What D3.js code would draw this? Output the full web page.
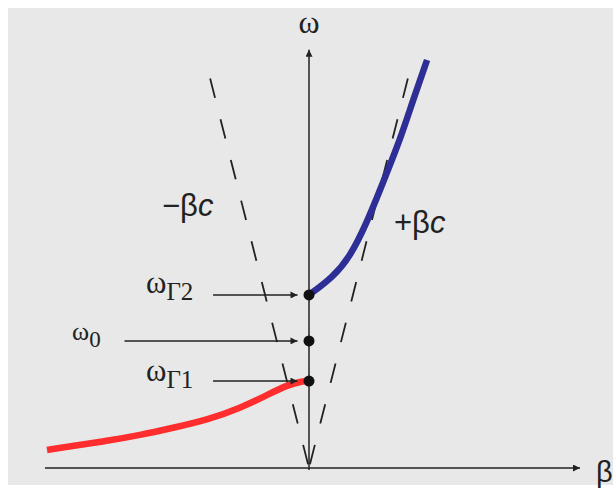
<!DOCTYPE html>
<html><head><meta charset="utf-8">
<script src="https://cdn.jsdelivr.net/npm/d3@7"></script>
<style>body{margin:0;background:#fff}svg{display:block}</style>
</head><body>
<script>
// ---- data (arbitrary units: beta horizontally, omega vertically) ----
const bluePolariton = [[0,4.22],[0.59,4.66],[1.0,5.15],[1.41,5.98],[1.80,6.95],[2.22,8.0],[2.54,8.98],[2.88,9.95]];
const redPolariton  = [[-6.39,0.44],[-5.76,0.54],[-4.93,0.66],[-4.12,0.80],[-3.32,0.98],[-2.49,1.17],[-1.68,1.46],[-1.02,1.78],[-0.54,2.02],[-0.15,2.12],[0,2.12]];
const lightSpeed = 3.94;          // slope of omega = +-beta*c
const lightTop = 9.5;             // omega where the light lines end
const levelSubs  = ["Γ2","0","Γ1"];
const levelValues = [4.22, 3.1, 2.12];
const axisLabels = ["ω","β"];
const lineLabels = ["−β","+β"];

const W = 613, H = 495;
const svg = d3.select("body").append("svg").attr("width",W).attr("height",H);
svg.append("rect").attr("x",8).attr("y",8).attr("width",W-8).attr("height",477).attr("fill","#e8e8e8");

const x = d3.scaleLinear().domain([-6.6,6.6]).range([38.4,579.6]);
const y = d3.scaleLinear().domain([0,10]).range([468,58]);

const defs = svg.append("defs");
defs.append("marker").attr("id","ah").attr("viewBox","0 0 10 10").attr("refX",10).attr("refY",5)
  .attr("markerWidth",11).attr("markerHeight",7).attr("markerUnits","userSpaceOnUse").attr("orient","auto")
  .append("path").attr("d","M0,0L10,5L0,10z").attr("fill","#222");

const ink = "#222";
// axes
svg.append("line").attr("x1",x(-6.44)).attr("x2",x(6.61)).attr("y1",y(0)).attr("y2",y(0))
  .attr("stroke",ink).attr("stroke-width",1.5).attr("marker-end","url(#ah)");
svg.append("line").attr("x1",x(0)).attr("x2",x(0)).attr("y1",y(-0.05)).attr("y2",y(10.2))
  .attr("stroke",ink).attr("stroke-width",1.5).attr("marker-end","url(#ah)");

// light lines
[-1,1].forEach(s=>{
  svg.append("line").attr("x1",x(s*lightTop/lightSpeed)).attr("y1",y(lightTop))
    .attr("x2",x(0)).attr("y2",y(0))
    .attr("stroke",ink).attr("stroke-width",1.8).attr("stroke-dasharray","20,22");
});

// polariton branches
const line = d3.line().x(d=>x(d[0])).y(d=>y(d[1])).curve(d3.curveBasis);
svg.append("path").attr("d",line(redPolariton)).attr("fill","none").attr("stroke","#ff2d2d").attr("stroke-width",6.5);
svg.append("path").attr("d",line(bluePolariton)).attr("fill","none").attr("stroke","#2d2f96").attr("stroke-width",6.5);

// level arrows and dots
const arrowStart = [-2.34, -4.5, -2.34];
levelValues.forEach((v,i)=>{
  svg.append("line").attr("x1",x(arrowStart[i])).attr("x2",x(-0.28)).attr("y1",y(v)).attr("y2",y(v))
    .attr("stroke",ink).attr("stroke-width",1.5).attr("marker-end","url(#ah)");
  svg.append("circle").attr("cx",x(0)).attr("cy",y(v)).attr("r",5.5).attr("fill","#111");
});

// level labels
const labelPos = [[146,293],[72,340],[146,381]];
const mainSize = [31,26,31], subSize = [25,23,25];
levelValues.forEach((v,i)=>{
  const t = svg.append("text").attr("x",labelPos[i][0]).attr("y",labelPos[i][1])
    .attr("font-family","Liberation Serif, serif").attr("font-size",mainSize[i]).attr("fill",ink);
  t.append("tspan").text("ω");
  t.append("tspan").attr("dy",7).attr("font-size",subSize[i]).text(levelSubs[i]);
});

// axis labels
svg.append("text").attr("x",x(0)).attr("y",33).attr("text-anchor","middle")
  .attr("font-family","Liberation Serif, serif").attr("font-size",32).attr("fill",ink).text(axisLabels[0]);
svg.append("text").attr("x",596).attr("y",482)
  .attr("font-family","Liberation Sans, sans-serif").attr("font-size",29).attr("fill",ink).text(axisLabels[1]);

// light-line labels
const llPos = [[162,216],[394,233]];
lineLabels.forEach((s,i)=>{
  const t = svg.append("text").attr("x",llPos[i][0]).attr("y",llPos[i][1])
    .attr("font-family","Liberation Sans, sans-serif").attr("font-size",31).attr("fill",ink);
  t.append("tspan").text(s);
  t.append("tspan").attr("font-style","italic").text("c");
});
</script>
</body></html>
